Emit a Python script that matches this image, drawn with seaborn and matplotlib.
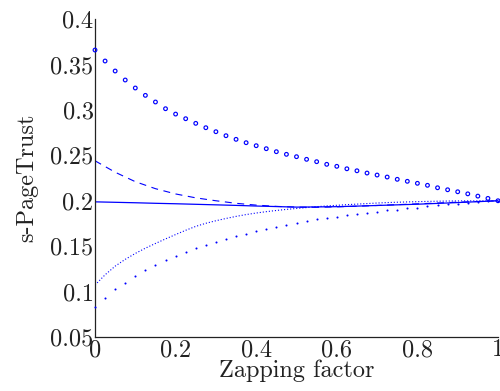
import numpy as np
import pandas as pd
import matplotlib
matplotlib.use("Agg")
import matplotlib.pyplot as plt
import seaborn as sns

# Zapping factor grids: markers every 0.025, lines every 0.05
x_fine = np.linspace(0.0, 1.0, 41)
x_coarse = np.linspace(0.0, 1.0, 21)

# s-PageTrust of the page starting highest (open circles)
trust_high = [0.3659, 0.3538, 0.3428, 0.3329, 0.3241, 0.3160, 0.3087, 0.3013,
              0.2954, 0.2903, 0.2852, 0.2804, 0.2760, 0.2716, 0.2676, 0.2639,
              0.2606, 0.2573, 0.2540, 0.2511, 0.2485, 0.2456, 0.2430, 0.2401,
              0.2379, 0.2352, 0.2330, 0.2305, 0.2283, 0.2261, 0.2236, 0.2214,
              0.2192, 0.2170, 0.2143, 0.2121, 0.2099, 0.2076, 0.2051, 0.2026,
              0.2000]

# s-PageTrust of the page starting lowest (dots)
trust_low = [0.0833, 0.0935, 0.1025, 0.1098, 0.1168, 0.1234, 0.1289, 0.1344,
             0.1392, 0.1436, 0.1476, 0.1514, 0.1550, 0.1583, 0.1612, 0.1639,
             0.1665, 0.1690, 0.1714, 0.1735, 0.1754, 0.1777, 0.1796, 0.1809,
             0.1826, 0.1841, 0.1855, 0.1868, 0.1881, 0.1894, 0.1903, 0.1916,
             0.1925, 0.1939, 0.1948, 0.1959, 0.1967, 0.1976, 0.1985, 0.1993,
             0.2000]

# s-PageTrust drawn as a fine dotted line
trust_dotted = [0.1072, 0.1185, 0.1280, 0.1355, 0.1420, 0.1478, 0.1530, 0.1580,
                0.1628, 0.1675, 0.1718, 0.1752, 0.1780, 0.1805, 0.1828, 0.1848,
                0.1865, 0.1880, 0.1893, 0.1905, 0.1915, 0.1925, 0.1935, 0.1943,
                0.1950, 0.1957, 0.1963, 0.1969, 0.1975, 0.1980, 0.1984, 0.1987,
                0.1990, 0.1993, 0.1995, 0.1997, 0.1998, 0.1999, 0.1999, 0.2000,
                0.2000]

# Dashed and solid line series
trust_dashed = [0.2440, 0.2314, 0.2210, 0.2133, 0.2075, 0.2032, 0.2000, 0.1972,
                0.1952, 0.1938, 0.1930, 0.1928, 0.1933, 0.1940, 0.1948, 0.1957,
                0.1966, 0.1975, 0.1984, 0.1992, 0.2000]
trust_solid = [0.1988, 0.1983, 0.1978, 0.1972, 0.1967, 0.1961, 0.1955, 0.1949,
               0.1942, 0.1936, 0.1930, 0.1932, 0.1935, 0.1941, 0.1948, 0.1955,
               0.1962, 0.1971, 0.1980, 0.1990, 0.2000]

x_ticks = [0, 0.2, 0.4, 0.6, 0.8, 1]
x_ticklabels = ["0", "0.2", "0.4", "0.6", "0.8", "1"]
y_ticks = [0.05, 0.1, 0.15, 0.2, 0.25, 0.3, 0.35, 0.4]
y_ticklabels = ["0.05", "0.1", "0.15", "0.2", "0.25", "0.3", "0.35", "0.4"]

sns.set_theme(style="white")
plt.rcParams["font.family"] = ["cmr10", "DejaVu Serif"]
plt.rcParams["mathtext.fontset"] = "cm"
plt.rcParams["axes.formatter.use_mathtext"] = True
plt.rcParams["lines.scale_dashes"] = False

FS = 17.5
INK = "#222222"

fig = plt.figure(figsize=(5.0, 3.91), dpi=100)
ax = fig.add_axes([0.19, 0.138, 0.806, 0.8133])

markers_df = pd.DataFrame({"x": x_fine, "high": trust_high,
                           "low": trust_low, "dotted": trust_dotted})
lines_df = pd.DataFrame({"x": x_coarse, "dashed": trust_dashed,
                         "solid": trust_solid})

sns.lineplot(data=lines_df, x="x", y="solid", ax=ax, color="blue",
             linewidth=0.9, linestyle="-")
sns.lineplot(data=lines_df, x="x", y="dashed", ax=ax, color="blue",
             linewidth=0.8).lines[-1].set_dashes((5.0, 4.0))
sns.lineplot(data=markers_df, x="x", y="dotted", ax=ax, color="blue",
             linewidth=0.8).lines[-1].set_dashes((0.8, 1.4))
sns.scatterplot(data=markers_df, x="x", y="high", ax=ax, marker="o", s=7,
                facecolor="none", edgecolor="blue", linewidth=0.85,
                clip_on=False, zorder=3)
sns.scatterplot(data=markers_df, x="x", y="low", ax=ax, marker="o", s=2.2,
                color="blue", linewidth=0, clip_on=False, zorder=3)

ax.set_xlim(0, 1)
ax.set_ylim(0.05, 0.4)
ax.set_xticks(x_ticks)
ax.set_xticklabels(x_ticklabels)
ax.set_yticks(y_ticks)
ax.set_yticklabels(y_ticklabels)

for side in ("top", "right"):
    ax.spines[side].set_visible(False)
for side in ("left", "bottom"):
    ax.spines[side].set_color(INK)
    ax.spines[side].set_linewidth(0.9)
    ax.spines[side].set_zorder(2)

ax.tick_params(axis="both", which="major", direction="in", length=4,
               width=0.7, color=INK, labelsize=FS, labelcolor=INK)
ax.tick_params(axis="x", pad=1.5)
ax.tick_params(axis="y", pad=1)

ax.set_xlabel("Zapping factor", fontsize=FS, color=INK, labelpad=-1)
ax.set_ylabel("s-PageTrust", fontsize=FS, color=INK, labelpad=9)
ax.grid(False)

fig.savefig("out.png", dpi=100)
